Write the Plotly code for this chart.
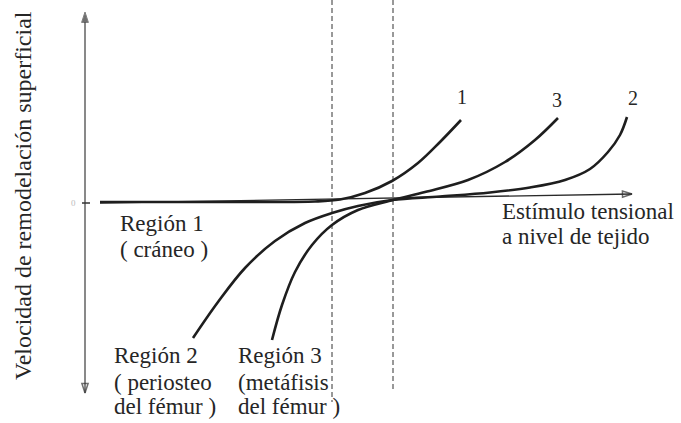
import plotly.graph_objects as go

# Curve data: stimulus (x) vs. surface remodelling rate (y)
region1_x = [0.30, 3.30, 4.60, 5.10, 5.60, 6.14, 6.66, 7.10, 7.52]
region1_y = [-0.10, -0.10, -0.075, 0.025, 0.35, 0.95, 1.85, 2.90, 4.00]

region2_x = [2.16, 2.66, 3.20, 3.80, 4.40, 4.94, 5.46, 6.14, 7.10, 8.10, 8.90, 9.60,
             10.10, 10.46, 10.70, 10.84]
region2_y = [-6.90, -5.10, -3.40, -2.05, -1.15, -0.65, -0.30, 0.00, 0.175, 0.375, 0.625,
             1.00, 1.55, 2.40, 3.25, 4.15]

region3_x = [3.74, 3.94, 4.20, 4.54, 4.94, 5.46, 6.16, 6.80, 7.66, 8.40, 9.00, 9.46]
region3_y = [-7.00, -5.25, -3.60, -2.25, -1.25, -0.50, 0.00, 0.40, 1.00, 1.90, 3.00, 4.10]

# Threshold stimulus levels (dashed guides)
thresholds = [4.94, 6.16]
threshold_bottoms = [-10.1, -9.5]

# Axis extents
y_axis_top, y_axis_bottom = 9.4, -9.65
x_axis_start = (0.30, -0.15)
x_axis_end = (10.94, 0.30)

curve_tags = ["1", "3", "2"]
curve_tag_pos = [(7.54, 5.15), (9.44, 5.0), (10.96, 5.1)]

SERIF = "Liberation Serif, Times New Roman, serif"
INK = "#1e1e1e"

fig = go.Figure()

# Vertical axis (two halves so each end gets its own arrowhead)
fig.add_trace(go.Scatter(
    x=[0, 0], y=[0, y_axis_top], mode="lines+markers",
    line=dict(color="#4a4a4a", width=1.3),
    marker=dict(symbol=["circle", "arrow"], size=[0, 11], angleref="previous",
                color="#333"),
    hoverinfo="skip", showlegend=False))
fig.add_trace(go.Scatter(
    x=[0, 0], y=[0, y_axis_bottom], mode="lines+markers",
    line=dict(color="#4a4a4a", width=1.3),
    marker=dict(symbol=["circle", "arrow-open"], size=[0, 10], angleref="previous",
                color="#333", line=dict(width=1.5, color="#333")),
    hoverinfo="skip", showlegend=False))
# zero tick
fig.add_trace(go.Scatter(
    x=[-0.06, 0.10], y=[-0.15, -0.15], mode="lines",
    line=dict(color="#333", width=1.5), hoverinfo="skip", showlegend=False))

# Threshold guides
for tx, tb in zip(thresholds, threshold_bottoms):
    fig.add_trace(go.Scatter(
        x=[tx, tx], y=[10.0, tb], mode="lines",
        line=dict(color="#333", width=1, dash="5px,3px"),
        hoverinfo="skip", showlegend=False))

# Horizontal (stimulus) axis
fig.add_trace(go.Scatter(
    x=[x_axis_start[0], x_axis_end[0]], y=[x_axis_start[1], x_axis_end[1]],
    mode="lines+markers", line=dict(color="#2a2a2a", width=1.4),
    marker=dict(symbol=["circle", "arrow-open"], size=[0, 10], angleref="previous",
                color="#2a2a2a", line=dict(width=1.5, color="#2a2a2a")),
    hoverinfo="skip", showlegend=False))

# Response curves
for cx, cy in [(region1_x, region1_y), (region2_x, region2_y), (region3_x, region3_y)]:
    fig.add_trace(go.Scatter(
        x=cx, y=cy, mode="lines",
        line=dict(color=INK, width=2.6, shape="spline", smoothing=1.0),
        hoverinfo="skip", showlegend=False))

annotations = [
    dict(x=-1.24, y=0.2, text="Velocidad de remodelación superficial", textangle=-90,
         font=dict(size=24)),
    dict(x=-0.24, y=-0.15, text="0", font=dict(size=9, color="#bbb")),
]


def text_block(x, y_lines, lines):
    for yy, line in zip(y_lines, lines):
        annotations.append(dict(x=x, y=yy, text=line, xanchor="left"))


text_block(0.66, [-1.15, -2.45], ["Región 1", "( cráneo )"])
text_block(0.54, [-7.75, -9.1, -10.3], ["Región 2", "( periosteo", "del fémur )"])
text_block(3.02, [-7.75, -9.1, -10.3], ["Región 3", "(metáfisis", "del fémur )"])
text_block(8.30, [-0.55, -1.8], ["Estímulo tensional", "a nivel de tejido"])

for tag, (px, py) in zip(curve_tags, curve_tag_pos):
    annotations.append(dict(x=px, y=py, text=tag, font=dict(size=20)))

for a in annotations:
    a.setdefault("font", {})
    a["font"].setdefault("size", 23)
    a["font"].setdefault("color", "#262626")
    a["font"]["family"] = SERIF
    a.update(xref="x", yref="y", showarrow=False, yanchor="middle")

fig.update_layout(
    width=681, height=423, autosize=False,
    margin=dict(l=0, r=0, t=0, b=0),
    paper_bgcolor="white", plot_bgcolor="white",
    xaxis=dict(range=[-1.7, 11.92], visible=False, fixedrange=True),
    yaxis=dict(range=[-11.15, 10.0], visible=False, fixedrange=True),
    annotations=annotations,
)

fig.write_html("out.html")
